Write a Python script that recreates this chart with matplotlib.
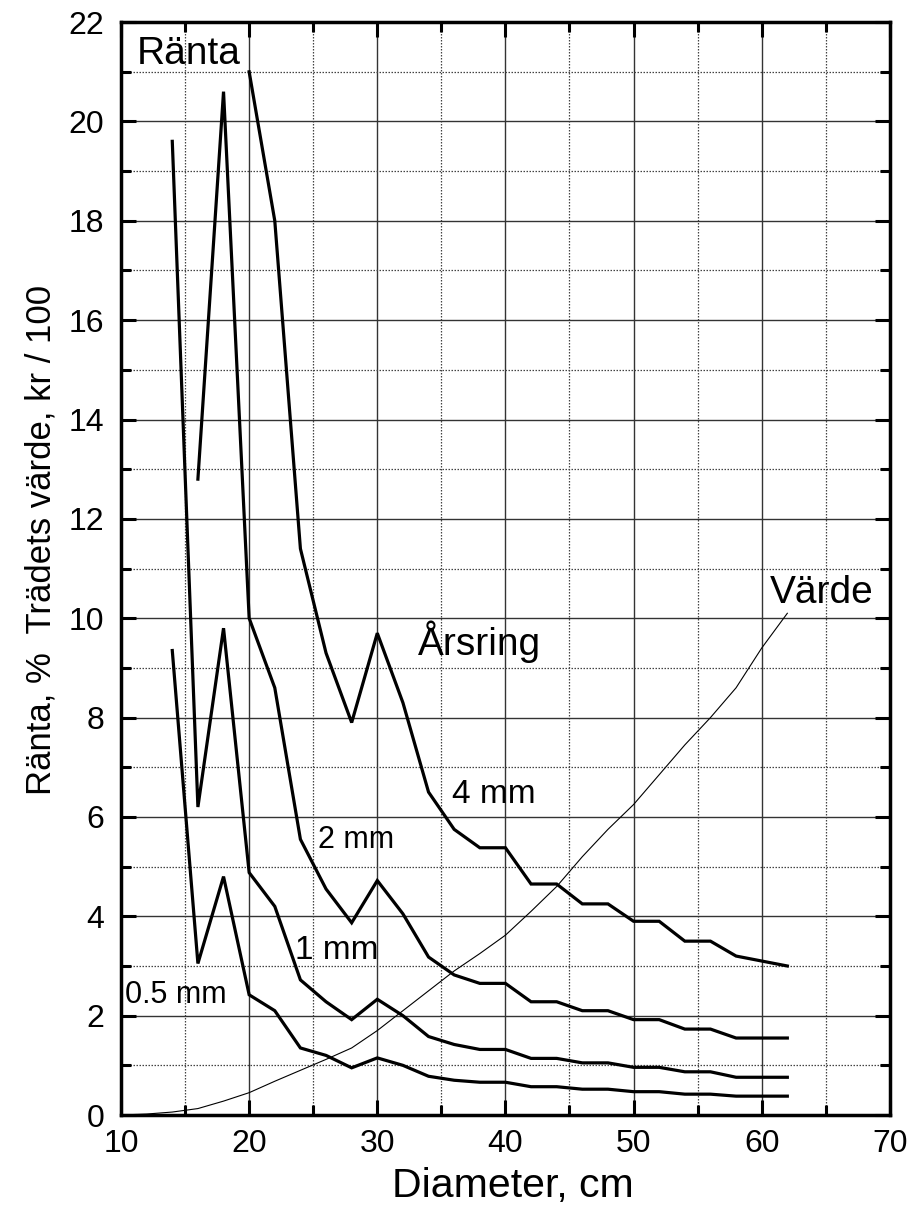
import matplotlib
matplotlib.use("Agg")
import matplotlib.pyplot as plt
from matplotlib.ticker import MultipleLocator

plt.rcParams['font.family'] = ['Liberation Sans', 'DejaVu Sans']

# ränta (%) per årsringsbredd, läst från bilden
d_05 = [14, 16, 18, 20, 22, 24, 26, 28, 30, 32, 34, 36, 38, 40, 42, 44, 46, 48, 50, 52, 54, 56, 58, 60, 62]
r_05 = [9.35, 3.05, 4.8, 2.42, 2.1, 1.35, 1.2, 0.95, 1.15, 1.0, 0.78, 0.7, 0.66, 0.66, 0.57, 0.57,
        0.52, 0.52, 0.47, 0.47, 0.42, 0.42, 0.38, 0.38, 0.38]

d_1 = [14, 16, 18, 20, 22, 24, 26, 28, 30, 32, 34, 36, 38, 40, 42, 44, 46, 48, 50, 52, 54, 56, 58, 60, 62]
r_1 = [19.6, 6.2, 9.8, 4.88, 4.2, 2.72, 2.28, 1.92, 2.33, 2.0, 1.58, 1.42, 1.32, 1.32, 1.14, 1.14,
       1.05, 1.05, 0.96, 0.96, 0.87, 0.87, 0.76, 0.76, 0.76]

d_2 = [16, 18, 20, 22, 24, 26, 28, 30, 32, 34, 36, 38, 40, 42, 44, 46, 48, 50, 52, 54, 56, 58, 60, 62]
r_2 = [12.8, 20.6, 10.0, 8.6, 5.55, 4.55, 3.87, 4.72, 4.05, 3.18, 2.82, 2.65, 2.65, 2.28, 2.28,
       2.1, 2.1, 1.92, 1.92, 1.73, 1.73, 1.55, 1.55, 1.55]

d_4 = [20, 22, 24, 26, 28, 30, 32, 34, 36, 38, 40, 42, 44, 46, 48, 50, 52, 54, 56, 58, 60, 62]
r_4 = [21.0, 18.0, 11.4, 9.3, 7.9, 9.7, 8.3, 6.5, 5.75, 5.38, 5.38, 4.65, 4.65, 4.25, 4.25,
       3.9, 3.9, 3.5, 3.5, 3.2, 3.1, 3.0]

# trädets värde, kr / 100
d_v = [10, 12, 14, 16, 18, 20, 22, 24, 26, 28, 30, 32, 34, 36, 38, 40, 42, 44, 46, 48, 50, 52, 54, 56, 58, 60, 62]
v = [0.0, 0.02, 0.06, 0.13, 0.28, 0.45, 0.68, 0.9, 1.12, 1.35, 1.7, 2.1, 2.5, 2.9, 3.25, 3.62,
     4.1, 4.6, 5.2, 5.75, 6.25, 6.85, 7.45, 8.0, 8.6, 9.4, 10.1]

fig = plt.figure(figsize=(9.12, 12.28), dpi=100)
ax = fig.add_axes([0.1327, 0.092, 0.843, 0.890])

for d, r in [(d_05, r_05), (d_1, r_1), (d_2, r_2), (d_4, r_4)]:
    ax.plot(d, r, color='black', lw=2.3, solid_joinstyle='miter', zorder=3)
ax.plot(d_v, v, color='black', lw=0.8, zorder=3)

ax.set_xlim(10, 70)
ax.set_ylim(0, 22)
ax.xaxis.set_major_locator(MultipleLocator(10))
ax.xaxis.set_minor_locator(MultipleLocator(5))
ax.yaxis.set_major_locator(MultipleLocator(2))
ax.yaxis.set_minor_locator(MultipleLocator(1))

ax.grid(which='major', color='#333333', lw=1.0, ls='-')
ax.grid(which='minor', color='#444444', lw=0.9, ls=(0, (1.2, 1.2)))
ax.set_axisbelow(True)

ax.tick_params(which='both', direction='in', top=True, right=True, width=2.2)
ax.tick_params(axis='y', which='major', length=11, labelsize=23, pad=12)
ax.tick_params(axis='x', which='major', length=11, labelsize=23, pad=10)
ax.tick_params(which='minor', length=7)
for s in ax.spines.values():
    s.set_linewidth(2.5)

ax.set_xlabel('Diameter, cm', fontsize=29.5)
ax.xaxis.set_label_coords(0.51, -0.048)
ax.set_ylabel('Ränta, %  Trädets värde, kr / 100', fontsize=25)
ax.yaxis.set_label_coords(-0.083, 0.526)

ax.text(11.25, 21.15, 'Ränta', fontsize=28, va='baseline')
ax.text(33.17, 9.26, 'Årsring', fontsize=28, va='baseline')
ax.text(60.6, 10.3, 'Värde', fontsize=28, va='baseline')
ax.text(35.8, 6.28, '4 mm', fontsize=24, va='baseline')
ax.text(25.37, 5.37, '2 mm', fontsize=22, va='baseline')
ax.text(23.57, 3.14, '1 mm', fontsize=24, va='baseline')
ax.text(10.3, 2.25, '0.5 mm', fontsize=22, va='baseline')

fig.savefig('out.png', dpi=100)
